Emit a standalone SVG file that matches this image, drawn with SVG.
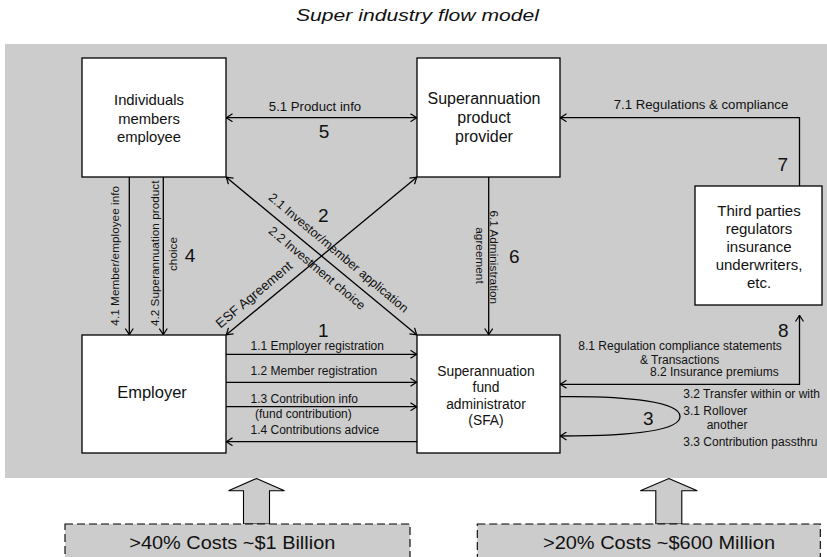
<svg xmlns="http://www.w3.org/2000/svg" width="827" height="557" viewBox="0 0 827 557">
<defs>
<style>
text{font-family:"Liberation Sans",Arial,Helvetica,sans-serif;fill:#111}
.box{fill:#fff;stroke:#000;stroke-width:1.3}
.ln{fill:none;stroke:#000;stroke-width:1.3}
.lab{font-size:12px}
.lab13{font-size:13.2px}
.vl{font-size:11.8px;text-anchor:middle}
.num{font-size:19px;text-anchor:middle}
.mid{text-anchor:middle}
.cost{fill:#cccccc;stroke:#000;stroke-width:1.1;stroke-dasharray:8 4}
.barrow{fill:#cccccc;stroke:#000;stroke-width:1.1}
</style>
<marker id="ah" viewBox="0 0 7 9" refX="7" refY="4.5" markerWidth="7" markerHeight="9" markerUnits="userSpaceOnUse" orient="auto-start-reverse">
<path d="M0.5,0.5 L6.6,4.5 L0.5,8.5" fill="none" stroke="#000" stroke-width="1.2"/>
</marker>
</defs>
<rect x="0" y="0" width="827" height="557" fill="#fff"/>
<text x="417.5" y="21" class="mid" font-size="17" font-style="italic" textLength="243" lengthAdjust="spacingAndGlyphs">Super industry flow model</text>
<rect x="5" y="44" width="822" height="434" fill="#cccccc"/>

<g id="connectors" class="ln">
<line x1="226" y1="117.7" x2="417" y2="117.7" marker-start="url(#ah)" marker-end="url(#ah)"/>
<path d="M560,117.7 H799.5 V196" marker-start="url(#ah)" marker-end="url(#ah)"/>
<line x1="129.3" y1="177" x2="129.3" y2="335" marker-end="url(#ah)"/>
<line x1="163.3" y1="177" x2="163.3" y2="335" marker-end="url(#ah)"/>
<line x1="488.7" y1="177" x2="488.7" y2="335" marker-end="url(#ah)"/>
<line x1="226" y1="177" x2="417" y2="335" marker-start="url(#ah)" marker-end="url(#ah)"/>
<line x1="226" y1="335" x2="417" y2="177" marker-start="url(#ah)" marker-end="url(#ah)"/>
<line x1="226" y1="354.3" x2="417" y2="354.3" marker-end="url(#ah)"/>
<line x1="226" y1="382.3" x2="417" y2="382.3" marker-end="url(#ah)"/>
<line x1="226" y1="406.7" x2="417" y2="406.7" marker-end="url(#ah)"/>
<line x1="417" y1="441.7" x2="226" y2="441.7" marker-end="url(#ah)"/>
<path d="M560,384.3 H799.5 V315" marker-start="url(#ah)" marker-end="url(#ah)"/>
<path d="M560,396.7 C630,396 680,402 680,416.5 C680,431 630,436 560,436" marker-end="url(#ah)"/>
</g>

<g id="individuals">
<rect class="box" x="82" y="58" width="144" height="119"/>
<text class="mid" font-size="14.8" x="149" y="105">Individuals</text>
<text class="mid" font-size="14.8" x="149" y="123.5">members</text>
<text class="mid" font-size="14.8" x="149" y="142">employee</text>
</g>
<g id="provider">
<rect class="box" x="417" y="58" width="143" height="119"/>
<text class="mid" font-size="16" x="484" y="103.5">Superannuation</text>
<text class="mid" font-size="16" x="484" y="122.5">product</text>
<text class="mid" font-size="16" x="484" y="141.5">provider</text>
</g>
<g id="third-parties">
<rect class="box" x="695" y="186" width="127" height="119"/>
<text class="mid" font-size="15" x="759" y="215.5">Third parties</text>
<text class="mid" font-size="15" x="759" y="233.5">regulators</text>
<text class="mid" font-size="15" x="759" y="251.5">insurance</text>
<text class="mid" font-size="15" x="759" y="269.5">underwriters,</text>
<text class="mid" font-size="15" x="759" y="287.5">etc.</text>
</g>
<g id="employer">
<rect class="box" x="82" y="335" width="144" height="118"/>
<text class="mid" font-size="16.5" x="152" y="398.3">Employer</text>
</g>
<g id="sfa">
<rect class="box" x="417" y="335" width="143" height="118"/>
<text class="mid" font-size="13.8" x="486" y="375.7">Superannuation</text>
<text class="mid" font-size="13.8" x="486" y="392.2">fund</text>
<text class="mid" font-size="13.8" x="486" y="408.7">administrator</text>
<text class="mid" font-size="13.8" x="486" y="425.2">(SFA)</text>
</g>

<g id="labels">
<text class="lab13 mid" x="315" y="111.3">5.1 Product info</text>
<text class="num" x="324" y="138.3">5</text>
<text class="lab13 mid" x="701" y="108.5">7.1 Regulations &amp; compliance</text>
<text class="num" x="782.7" y="171">7</text>
<text class="vl" transform="translate(119.3,255.8) rotate(-90)">4.1 Member/employee info</text>
<text class="vl" transform="translate(159.3,253.3) rotate(-90)">4.2 Superannuation product</text>
<text class="vl" transform="translate(177.3,254) rotate(-90)">choice</text>
<text class="num" x="190" y="262.3">4</text>
<text class="vl" font-size="11.5" transform="translate(490,257.3) rotate(90)">6.1 Administration</text>
<text class="vl" font-size="11.5" transform="translate(475.5,255.5) rotate(90)">agreement</text>
<text class="num" x="514.3" y="262.7">6</text>
<text font-size="12.5" transform="translate(267.7,198.8) rotate(40)">2.1 Investor/member application</text>
<text font-size="12.5" transform="translate(267.7,232.2) rotate(40)">2.2 Investment choice</text>
<text class="num" x="323.3" y="221.7">2</text>
<text class="mid" font-size="13.5" transform="translate(257,298) rotate(-40)">ESF Agreement</text>
<text class="num" x="323.3" y="337">1</text>
<text class="lab" x="250.5" y="350.3">1.1 Employer registration</text>
<text class="lab" x="250.5" y="375">1.2 Member registration</text>
<text class="lab" x="250.5" y="403.3">1.3 Contribution info</text>
<text class="lab" x="255" y="417.5">(fund contribution)</text>
<text class="lab" x="250.5" y="434">1.4 Contributions advice</text>
<text class="num" x="783.3" y="337">8</text>
<text class="lab" x="578.3" y="350">8.1 Regulation compliance statements</text>
<text class="lab" x="640" y="363.5">&amp; Transactions</text>
<text class="lab" x="650" y="376">8.2 Insurance premiums</text>
<text class="num" x="648.3" y="425">3</text>
<text class="lab" x="683.3" y="398.3">3.2 Transfer within or with</text>
<text class="lab" x="683.3" y="415">3.1 Rollover</text>
<text class="lab" x="706.7" y="429.3">another</text>
<text class="lab" x="683.3" y="446">3.3 Contribution passthru</text>
</g>

<g id="cost-left">
<polygon class="barrow" points="256.5,478.5 284.5,490.7 269.5,490.7 269.5,524 243.5,524 243.5,490.7 228.5,490.7"/>
<rect class="cost" x="65" y="524" width="345" height="60"/>
<text class="mid" font-size="18" x="232.3" y="549" textLength="206" lengthAdjust="spacingAndGlyphs">&gt;40% Costs ~$1 Billion</text>
</g>
<g id="cost-right">
<polygon class="barrow" points="668.8,478.5 697.3,490.7 681.8,490.7 681.8,524 655.8,524 655.8,490.7 640.3,490.7"/>
<rect class="cost" x="477.3" y="524" width="343" height="60"/>
<text class="mid" font-size="18" x="659" y="549" textLength="232" lengthAdjust="spacingAndGlyphs">&gt;20% Costs ~$600 Million</text>
</g>
</svg>
